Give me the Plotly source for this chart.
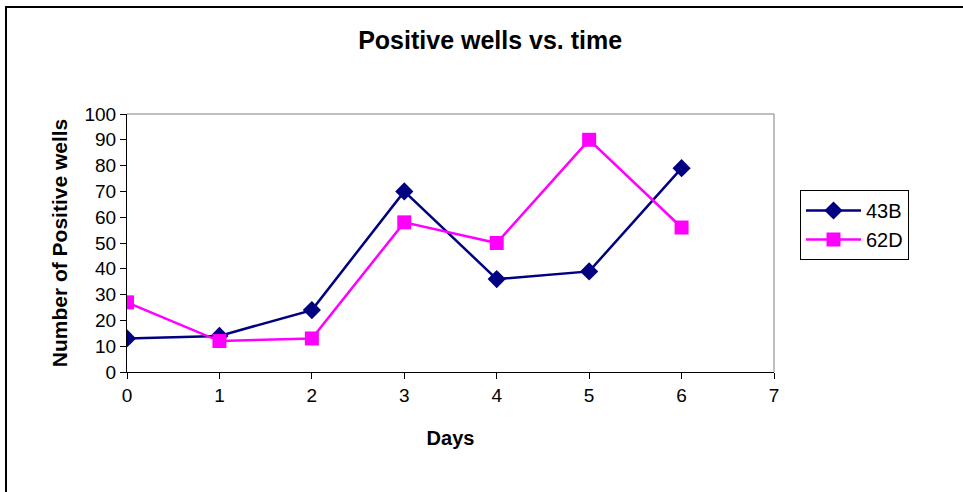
import plotly.graph_objects as go

days = [0, 1, 2, 3, 4, 5, 6]
s43b = [13, 14, 24, 70, 36, 39, 79]
s62d = [27, 12, 13, 58, 50, 90, 56]

font = "Liberation Sans, Arial, sans-serif"

fig = go.Figure()
fig.add_trace(go.Scatter(x=days, y=s43b, name="43B", mode="lines+markers", legendgroup="a",
                         line=dict(color="#000080", width=2.5),
                         marker=dict(symbol="diamond", size=14, color="#000080")))
fig.add_trace(go.Scatter(x=days, y=s62d, name="62D", mode="lines+markers", legendgroup="b",
                         line=dict(color="#FF00FF", width=2.5),
                         marker=dict(symbol="square", size=14, color="#FF00FF")))

fig.update_layout(
    width=963, height=492,
    margin=dict(l=127, r=189, t=114, b=120),
    paper_bgcolor="white", plot_bgcolor="white",
    font=dict(family=font, size=19, color="black"),
    title=dict(text="<b>Positive wells vs. time</b>", x=0.509, xanchor="center",
               y=1 - 40 / 492, yanchor="middle", yref="container",
               font=dict(size=25, family=font, color="black")),
    showlegend=True,
    legend=dict(x=(800 - 127) / 647, y=(372 - 190) / 258, xanchor="left", yanchor="top",
                bordercolor="black", borderwidth=1, bgcolor="white",
                font=dict(size=20, family=font), tracegroupgap=0, traceorder="grouped",
                itemwidth=55),
    xaxis=dict(range=[0, 7], dtick=1, tick0=0, showgrid=False, zeroline=False,
               showline=True, linecolor="black", linewidth=1, mirror=False,
               ticks="outside", ticklen=6, tickcolor="black",
               title=dict(text="<b>Days</b>", standoff=26, font=dict(size=20))),
    yaxis=dict(range=[0, 100], dtick=10, tick0=0, showgrid=False, zeroline=False,
               showline=True, linecolor="black", linewidth=1,
               ticks="outside", ticklen=6, tickcolor="black",
               title=dict(text="<b>Number of Positive wells</b>", standoff=11, font=dict(size=21))),
    shapes=[
        dict(type="line", xref="x domain", yref="y domain", x0=0, x1=1, y0=1, y1=1,
             line=dict(color="gray", width=1)),
        dict(type="line", xref="x domain", yref="y domain", x0=1, x1=1, y0=0, y1=1,
             line=dict(color="gray", width=1)),
        dict(type="rect", xref="paper", yref="paper",
             x0=(6 - 127) / 647, x1=(975 - 127) / 647,
             y0=(372 - 500) / 258, y1=(372 - 7) / 258,
             line=dict(color="black", width=2), layer="below"),
    ],
)

fig.write_html("out.html", config={"displayModeBar": False},
               post_script="document.body.style.margin='0';")
